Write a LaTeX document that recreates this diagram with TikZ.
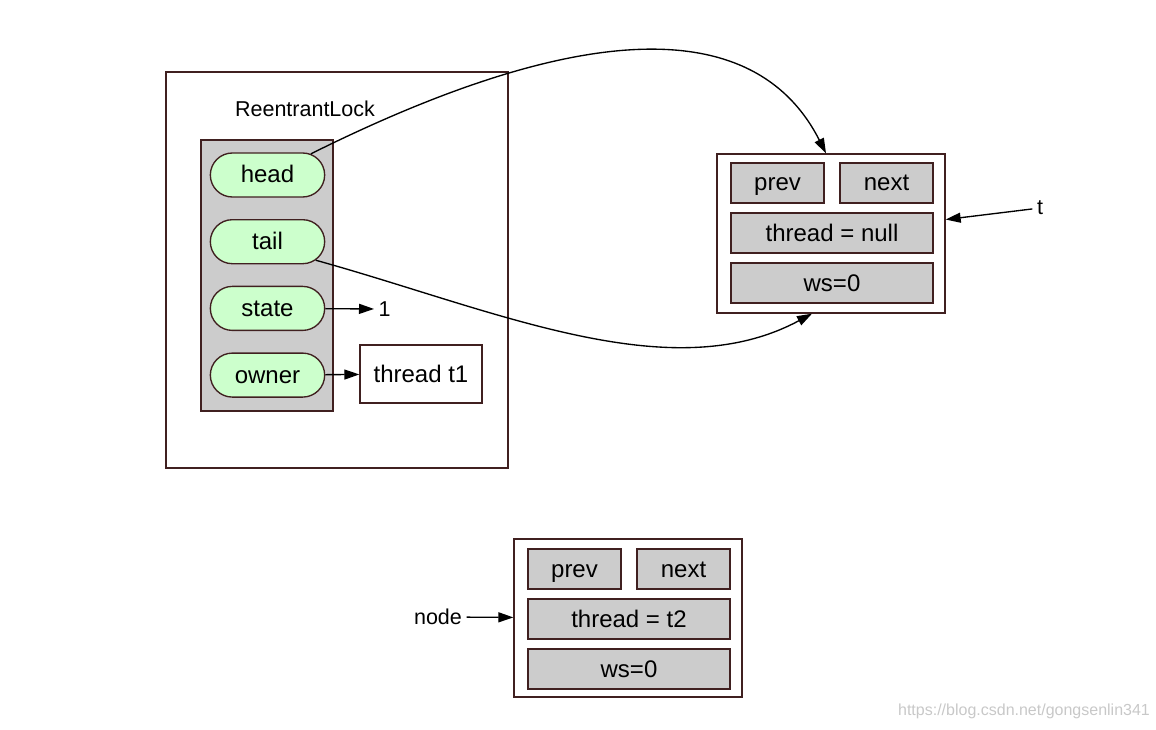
\documentclass[tikz,border=0pt]{standalone}
\usepackage{fontspec}
\setmainfont{Liberation Sans}
\usetikzlibrary{arrows.meta,shapes.misc}
\definecolor{lockedge}{RGB}{64,32,32}
\definecolor{pillgreen}{RGB}{204,255,204}
\definecolor{fieldgray}{RGB}{204,204,204}
\definecolor{markgray}{RGB}{200,200,200}
\newcommand{\fieldfont}{\fontsize{24}{28}\selectfont}
\newcommand{\notefont}{\fontsize{21.5}{25}\selectfont}

\begin{document}
\begin{tikzpicture}[x=1pt,y=-1pt,>={Triangle[length=15pt,width=10pt]},line width=1.35pt,
    node distance=66.7pt,
    pill/.style={rounded rectangle,draw=lockedge,fill=pillgreen,minimum width=121pt,
      minimum height=44pt,font=\fieldfont,text height=21pt,text depth=5pt},
    field/.style={rectangle,draw=lockedge,fill=fieldgray,minimum height=40pt,font=\fieldfont,
      text height=21pt,text depth=5pt},
    frame/.style={rectangle,draw=lockedge,fill=white},
    note/.style={font=\notefont,inner sep=4pt}]

  \useasboundingbox (0,0) rectangle (1156,730);

  % the lock
  \node[frame,minimum width=342pt,minimum height=396pt] (lock) at (337,270) {};
  \node[note] (name) at (305,109) {ReentrantLock};
  \node[frame,fill=fieldgray,minimum width=132pt,minimum height=271pt] (fields) at (267,275.5) {};
  \node[pill] (h) at (267.5,175) {head};
  \node[pill] (tl) [below of=h] {tail};
  \node[pill] (s) [below of=tl] {state};
  \node[pill] (o) [below of=s] {owner};

  \node[note,anchor=west] (one) at (374,309) {1};
  \node[frame,minimum width=122pt,minimum height=58pt,font=\fieldfont] (t1) at (421,374) {thread t1};

  % head node
  \node[frame,minimum width=228pt,minimum height=159pt] (q1) at (831,233.5) {};
  \node[field,minimum width=93pt] (p1) at (777.5,183) {prev};
  \node[field,minimum width=93pt] (n1) at (886.5,183) {next};
  \node[field,minimum width=202pt] (th1) at (832,233) {thread = null};
  \node[field,minimum width=202pt] (w1) at (832,283) {ws=0};
  \node[note] (tp) at (1040,208) {t};

  % new node
  \node[frame,minimum width=228pt,minimum height=158pt] (q2) at (628,618) {};
  \node[field,minimum width=93pt] (p2) at (574.5,569) {prev};
  \node[field,minimum width=93pt] (n2) at (683.5,569) {next};
  \node[field,minimum width=202pt] (th2) at (629,619) {thread = t2};
  \node[field,minimum width=202pt] (w2) at (629,669) {ws=0};
  \node[note] (nd) at (438,617) {node};

  \node[font=\fontsize{16}{18}\selectfont,text=markgray] (wm) at (1024,711) {https://blog.csdn.net/gongsenlin341};

  \draw[->] (h.26) .. controls (600,10) and (760,23) .. ([xshift=-5pt]q1.north);
  \draw[->] (tl.-21) .. controls (495,310) and (670,390) .. ([xshift=-19pt]q1.south);
  \draw[->] (s) -- (one);
  \draw[->] (o) -- (t1);
  \draw[->] (tp) -- (q1);
  \draw[->] (nd) -- (q2);

\end{tikzpicture}
\end{document}
